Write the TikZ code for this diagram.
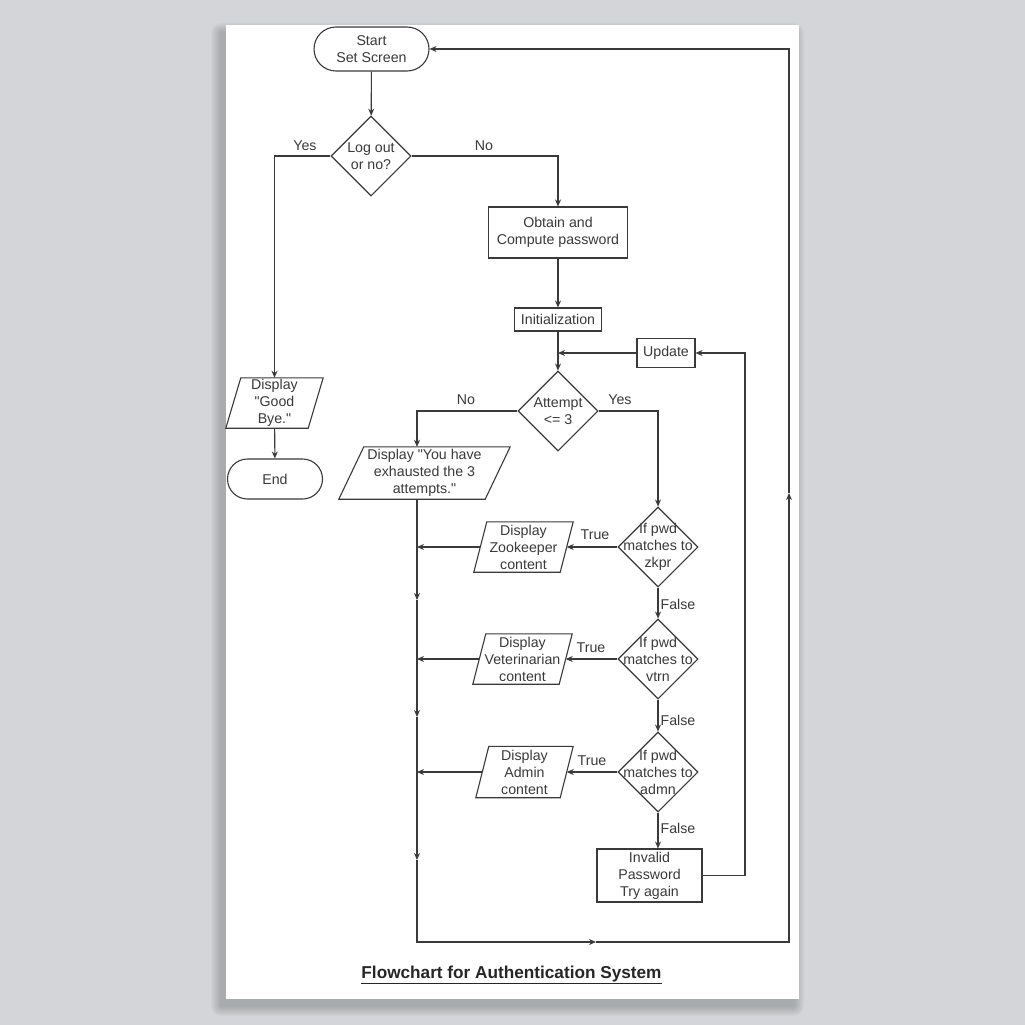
\documentclass[tikz,border=0pt]{standalone}
\usepackage{fontspec}
\setmainfont{Liberation Sans}
\usetikzlibrary{shapes.geometric,arrows.meta,calc}
\definecolor{bg}{RGB}{212,213,216}
\definecolor{ink}{RGB}{58,58,58}

% parallelogram outline around a node: #1 node name, #2 half of the slant
\newcommand\ioframe[2]{%
  \draw[draw=ink, line width=1.1pt]
    ($(#1.north west)+(#2,0)$) -- ($(#1.north east)+(#2,0)$) --
    ($(#1.south east)-(#2,0)$) -- ($(#1.south west)-(#2,0)$) -- cycle;}
\newcommand\dq{\textquotedbl}

\begin{document}
\begin{tikzpicture}[x=1pt,y=-1pt,
  every node/.style={font=\fontsize{14.2}{17}\selectfont, text=ink},
  base/.style={draw=ink, line width=1.1pt, inner sep=0pt, align=center},
  term/.style={base, rounded corners=#1},
  proc/.style={base},
  dec/.style={base, diamond, minimum width=80pt, minimum height=80pt},
  io/.style={inner sep=0pt, align=center},
  txt/.style={align=center, inner sep=0pt},
  lab/.style={inner sep=0pt},
  conn/.style={draw=ink, line width=1.1pt},
  arr/.style={conn, -{Stealth[length=7pt,width=6pt]}}
]
% canvas and sheet
\fill[bg] (0,0) rectangle (1025,1025);
\useasboundingbox (0,0) rectangle (1025,1025);
\foreach \r in {1,...,10}
  \fill[black, opacity=0.018, rounded corners=\r pt]
    ({221-\r},{33-\r}) rectangle ({794+\r},{1006+\r});
\fill[white] (226,25) rectangle (799,999);

% terminals
\node[term=22pt, minimum width=115pt, minimum height=44pt] (st) at (371.5,49)
  {Start\\Set Screen};
\node[term=20pt, minimum width=95pt, minimum height=40pt] (en) at (275,479) {End};

% decisions
\node[dec] (d1) at (371,156) {};
\node[txt] (t1) at (d1) {Log out\\or no?};
\node[dec] (d2) at (558,411) {};
\node[txt] (t2) at (d2) {Attempt\\<= 3};
\node[dec] (d3) at (658,547) {};
\node[txt] (t3) at (d3) {If pwd\\matches to\\zkpr};
\node[dec] (d4) at (658,659) {};
\node[txt] (t4) at (d4) {If pwd\\matches to\\vtrn};
\node[dec] (d5) at (658,772) {};
\node[txt] (t5) at (d5) {If pwd\\matches to\\admn};

% processes
\node[proc, minimum width=139pt, minimum height=51pt] (ob) at (558,232.5)
  {Obtain and\\Compute password};
\node[proc, minimum width=87pt, minimum height=23pt] (in) at (558,319.5)
  {Initialization};
\node[proc, minimum width=58pt, minimum height=29pt] (up) at (666,353) {Update};
\node[proc, minimum width=105pt, minimum height=53pt] (iv) at (649.5,875.5)
  {Invalid\\Password\\Try again};

% input / output (node box = mid-height width of the parallelogram)
\node[io, minimum width=82pt, minimum height=50pt] (gb) at (274.5,403)
  {Display\\\dq Good\\Bye.\dq};
\ioframe{gb}{7.5}
\node[io, minimum width=146pt, minimum height=52pt] (ex) at (424.5,473)
  {Display \dq You have\\exhausted the 3\\attempts.\dq};
\ioframe{ex}{12.5}
\node[io, minimum width=86pt, minimum height=50pt] (zk) at (523.5,547)
  {Display\\Zookeeper\\content};
\ioframe{zk}{6.5}
\node[io, minimum width=86pt, minimum height=50pt] (vt) at (522.5,659)
  {Display\\Veterinarian\\content};
\ioframe{vt}{6.5}
\node[io, minimum width=84pt, minimum height=51pt] (ad) at (524.5,772)
  {Display\\Admin\\content};
\ioframe{ad}{6.5}

% junction points of the main loop
\coordinate (j0) at (558,353);
\coordinate (m1) at (417,600);
\coordinate (m2) at (417,717);
\coordinate (m3) at (417,860);
\coordinate (c1) at (417,942);
\coordinate (m4) at (596,942);
\coordinate (c2) at (789,942);
\coordinate (m5) at (789,493);
\coordinate (r1) at (745,353);

% connectors
\draw[arr] (st) -- (d1);
\draw[arr] (d1.west) -| (gb.north);
\draw[arr] (gb) -- (en);
\draw[arr] (d1.east) -| (ob.north);
\draw[arr] (ob) -- (in);
\draw[conn] (in) -- (j0);
\draw[arr] (up.west) -- (j0);
\draw[arr] (j0) -- (d2.north);
\draw[arr] (d2.west) -| (ex.north -| c1);
\draw[arr] (d2.east) -| (d3.north);
\draw[arr] (d3.west) -- (zk.east);
\draw[arr] (d3.south) -- (d4.north);
\draw[arr] (d4.west) -- (vt.east);
\draw[arr] (d4.south) -- (d5.north);
\draw[arr] (d5.west) -- (ad.east);
\draw[arr] (d5.south) -- (d5.south |- iv.north);
\draw[arr] (iv.east) -| (r1) -- (up.east);
\draw[arr] (zk.west) -- (zk.west -| c1);
\draw[arr] (vt.west) -- (vt.west -| c1);
\draw[arr] (ad.west) -- (ad.west -| c1);
\draw[arr] (ex.south -| c1) -- (m1);
\draw[arr] (m1) -- (m2);
\draw[arr] (m2) -- (m3);
\draw[arr] (m3) -- (c1) -- (m4);
\draw[arr] (m4) -- (c2) -- (m5);
\draw[arr] (m5) |- (st.east);

% connector labels
\node[lab] (l1) at (305,146) {Yes};
\node[lab] (l2) at (484,146) {No};
\node[lab] (l3) at (466,400) {No};
\node[lab] (l4) at (620,400) {Yes};
\node[lab] (l5) at (595,535) {True};
\node[lab] (l6) at (591,648) {True};
\node[lab] (l7) at (592,761) {True};
\node[lab] (l8) at (678,604) {False};
\node[lab] (l9) at (678,720) {False};
\node[lab] (l10) at (678,828) {False};

% caption
\node[lab, text=black!85] (title) at (511.5,975)
  {\fontsize{17.2}{20}\selectfont\bfseries\underline{Flowchart for Authentication System}};
\end{tikzpicture}
\end{document}
